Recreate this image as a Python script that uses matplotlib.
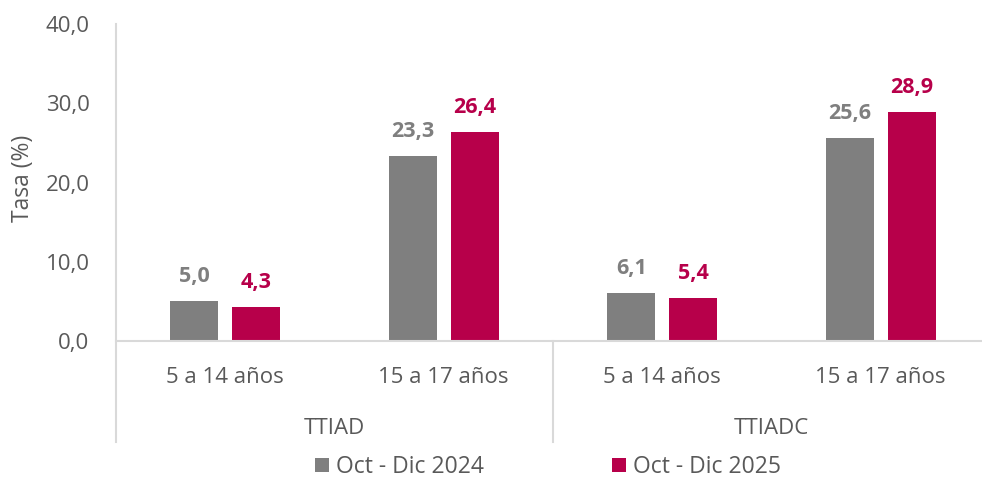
import matplotlib.pyplot as plt
import numpy as np

groups = ['TTIAD', 'TTIADC']
ages = ['5 a 14 años', '15 a 17 años', '5 a 14 años', '15 a 17 años']
series_names = ['Oct - Dic 2024', 'Oct - Dic 2025']
vals_2024 = [5.0, 23.3, 6.1, 25.6]
vals_2025 = [4.3, 26.4, 5.4, 28.9]
yticks = [0, 10, 20, 30, 40]

gray = '#7f7f7f'
red = '#b7004a'
txt = '#595959'
line_c = '#d9d9d9'

plt.rcParams['font.family'] = ['Open Sans', 'DejaVu Sans']

fig = plt.figure(figsize=(9.82, 4.8), dpi=100)
# axes spans pixel y 24 (top, 40) to 442 (bottom); y=0 at pixel 341
ax = fig.add_axes([116 / 982, 38 / 480, 866 / 982, 418 / 480])
ymin = -(442 - 341) / ((341 - 24) / 40)
ax.set_ylim(ymin, 40)
ax.set_xlim(-0.5, -0.5 + 866 / 218.5)

x = np.arange(len(ages))
w = 0.22
off = 0.142
b1 = ax.bar(x - off, vals_2024, w, color=gray, label=series_names[0])
b2 = ax.bar(x + off, vals_2025, w, color=red, label=series_names[1])

fmt = lambda v: f'{v:.1f}'.replace('.', ',')
for rect, v in zip(b1, vals_2024):
    ax.annotate(fmt(v), (rect.get_x() + rect.get_width() / 2, v), xytext=(0, 10),
                textcoords='offset points', ha='center', va='bottom',
                color=gray, fontsize=15.5, fontweight='bold')
for rect, v in zip(b2, vals_2025):
    ax.annotate(fmt(v), (rect.get_x() + rect.get_width() / 2, v), xytext=(0, 10),
                textcoords='offset points', ha='center', va='bottom',
                color=red, fontsize=15.5, fontweight='bold')

# axis styling
ax.set_yticks(yticks)
ax.set_yticklabels([fmt(t) for t in yticks], color=txt, fontsize=16)
ax.tick_params(axis='y', length=0, pad=19)
ax.set_xticks([])
for s in ['top', 'right', 'bottom']:
    ax.spines[s].set_visible(False)
ax.spines['left'].set_color(line_c)
ax.spines['left'].set_linewidth(1.5)
ax.axhline(0, color=line_c, lw=1.5, clip_on=False)

# two-level category labels
for xi, lab in zip(x, ages):
    ax.text(xi, -4.6, lab, ha='center', va='center', fontsize=16, color=txt)
for gi, g in enumerate(groups):
    ax.text(gi * 2 + 0.5, -11.0, g, ha='center', va='center', fontsize=16, color=txt)
ax.plot([1.5, 1.5], [0, ymin], color=line_c, lw=1.5, clip_on=False)

ax.set_ylabel('Tasa (%)', color=txt, fontsize=16.5)
ax.yaxis.set_label_coords(-0.094, 0.63)

fig.legend(loc='center', bbox_to_anchor=(0.558, 0.027), ncol=2, frameon=False,
           fontsize=16.5, labelcolor=txt, handlelength=0.6, handleheight=0.6,
           handletextpad=0.3, columnspacing=5.6)

fig.savefig('out.png', dpi=100)
